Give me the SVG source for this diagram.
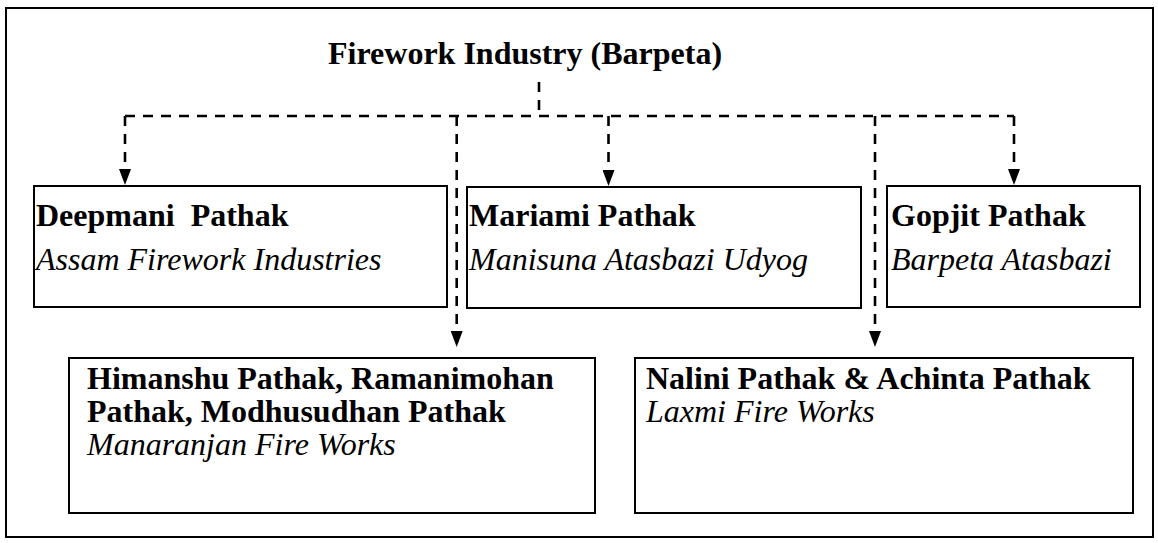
<svg xmlns="http://www.w3.org/2000/svg" width="1158" height="543" viewBox="0 0 1158 543">
  <defs>
    <style>
      .frame { fill: #ffffff; stroke: #000000; stroke-width: 2; }
      .box { fill: #ffffff; stroke: #000000; stroke-width: 2; }
      .conn { fill: none; stroke: #000000; stroke-width: 2.6; stroke-dasharray: 10 8; }
      .name { font-family: "Liberation Serif", "Times New Roman", serif; font-size: 32px; font-weight: bold; fill: #000000; }
      .firm { font-family: "Liberation Serif", "Times New Roman", serif; font-size: 32px; font-style: italic; fill: #000000; }
      .title { font-family: "Liberation Serif", "Times New Roman", serif; font-size: 32px; font-weight: bold; fill: #000000; }
    </style>
    <marker id="ah" markerUnits="userSpaceOnUse" markerWidth="16" markerHeight="12" viewBox="0 0 16 12" refX="16" refY="6" orient="auto">
      <polygon points="0,0 16,6 0,12" fill="#000000"/>
    </marker>
  </defs>

  <rect class="frame" x="6" y="8" width="1147" height="529"/>

  <g id="title">
    <text class="title" x="328" y="64">Firework Industry (Barpeta)</text>
  </g>

  <g id="connectors">
    <path class="conn" d="M539,82 L539,116"/>
    <path class="conn" d="M125,116 L1014,116"/>
    <path class="conn" d="M125,116 L125,185" marker-end="url(#ah)"/>
    <path class="conn" d="M456.7,116 L456.7,347" marker-end="url(#ah)"/>
    <path class="conn" d="M608.5,116 L608.5,186" marker-end="url(#ah)"/>
    <path class="conn" d="M875,116 L875,347" marker-end="url(#ah)"/>
    <path class="conn" d="M1014,116 L1014,185" marker-end="url(#ah)"/>
  </g>

  <g id="deepmani">
    <rect class="box" x="34" y="186" width="413" height="121"/>
    <text class="name" x="36" y="226" xml:space="preserve">Deepmani  Pathak</text>
    <text class="firm" x="36" y="270">Assam Firework Industries</text>
  </g>

  <g id="mariami">
    <rect class="box" x="467" y="187" width="394" height="121"/>
    <text class="name" x="469" y="226">Mariami Pathak</text>
    <text class="firm" x="469" y="270">Manisuna Atasbazi Udyog</text>
  </g>

  <g id="gopjit">
    <rect class="box" x="887" y="186" width="253" height="121"/>
    <text class="name" x="891" y="226">Gopjit Pathak</text>
    <text class="firm" x="891" y="270">Barpeta Atasbazi</text>
  </g>

  <g id="himanshu">
    <rect class="box" x="69" y="358" width="526" height="155"/>
    <text class="name" x="87" y="389">Himanshu Pathak, Ramanimohan</text>
    <text class="name" x="87" y="422">Pathak, Modhusudhan Pathak</text>
    <text class="firm" x="87" y="455">Manaranjan Fire Works</text>
  </g>

  <g id="nalini">
    <rect class="box" x="635" y="358" width="498" height="155"/>
    <text class="name" x="646" y="389">Nalini Pathak &amp; Achinta Pathak</text>
    <text class="firm" x="646" y="422">Laxmi Fire Works</text>
  </g>
</svg>
